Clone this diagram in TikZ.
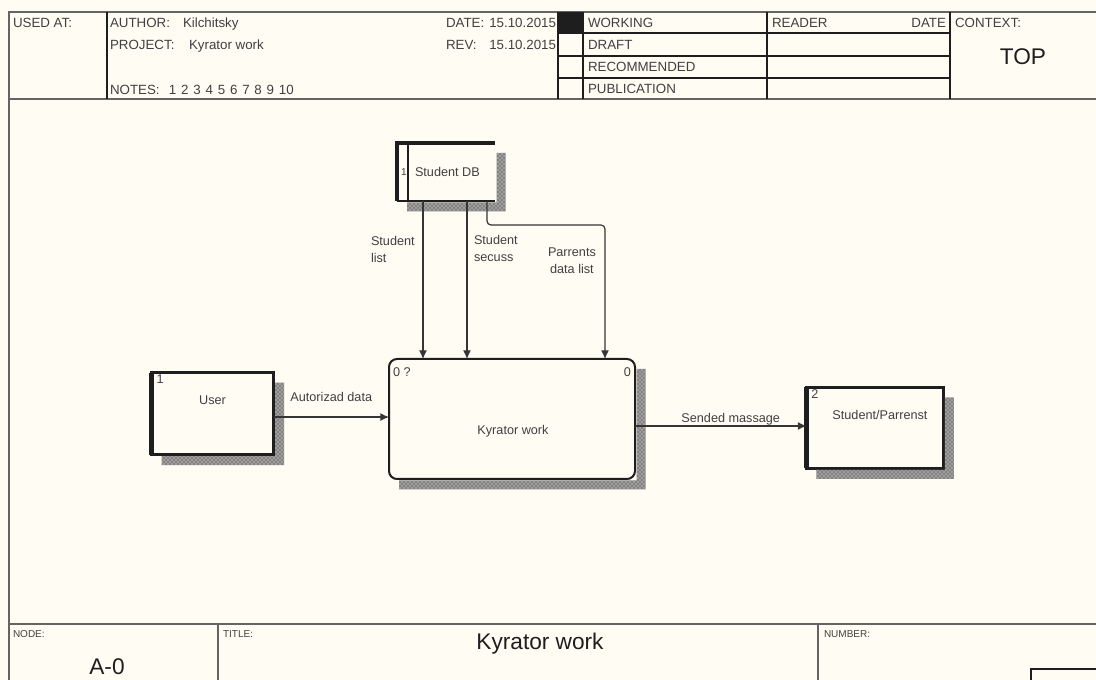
\documentclass[tikz,border=0pt]{standalone}
\usepackage{fontspec}
\setmainfont{Liberation Sans}
\usetikzlibrary{arrows.meta, positioning, patterns}
\definecolor{paper}{RGB}{255,252,243}
\definecolor{ink}{RGB}{30,30,30}
\definecolor{frm}{RGB}{100,100,100}
\tikzstyle{txt} = [inner sep=0pt, outer sep=0pt, anchor=base west, text=ink!85, font=\fontsize{9.5}{12.75}\selectfont]
\tikzstyle{head} = [txt, font=\fontsize{10}{12}\selectfont]
\tikzstyle{tiny} = [txt, font=\fontsize{7.5}{9}\selectfont]
\tikzstyle{big} = [inner sep=0pt, outer sep=0pt, text=ink, font=\fontsize{17}{20}\selectfont]
\tikzstyle{frame} = [draw=frm, line width=1.5pt]
\tikzstyle{cell} = [draw=ink, line width=1pt]
\tikzstyle{entity} = [rectangle, draw=ink, line width=2.3pt, outer sep=0pt]
\tikzstyle{process} = [rectangle, rounded corners=6pt, draw=ink, line width=1.5pt, outer sep=0pt, minimum width=184.5pt, minimum height=90pt]
\tikzstyle{store} = [rectangle, outer sep=0pt, minimum width=73.5pt, minimum height=43.5pt]
\tikzstyle{hatch} = [fill=ink!55, postaction={pattern=crosshatch dots, pattern color=paper}]
\tikzstyle{flow} = [draw=ink!90, line width=0.9pt, -{Latex[length=6.5pt,width=6pt]}]

\begin{document}
\begin{tikzpicture}[x=0.75pt, y=-0.75pt]
\fill[paper] (0,0) rectangle (1096,680);
\useasboundingbox (0,0) rectangle (1096,680);

% form frame
\draw[frame] (1096,12) -- (9,12) -- (9,680);
\draw[frame] (9,99) -- (1096,99);
\draw[frame] (9,624) -- (1096,624);
\draw[cell] (107,12) -- (107,99) (558,12) -- (558,99) (583,12) -- (583,99)
            (767,12) -- (767,99) (950,12) -- (950,99);
\draw[cell] (558,33) -- (950,33) (558,56) -- (950,56) (558,78) -- (950,78);
\fill[ink] (558,12) rectangle (583,33);
\draw[frame] (218,624) -- (218,680) (818,624) -- (818,680);
\draw[cell] (1096,669) -- (1031,669) -- (1031,680);

% header texts
\node (usedat) [head] at (13,28) {USED AT:};
\node (author) [head] at (110,28) {AUTHOR:};
\node (authorv) [head] at (183,28) {Kilchitsky};
\node (project) [head] at (110,50) {PROJECT:};
\node (projectv) [head] at (189,50) {Kyrator work};
\node (notes) [head] at (110,95) {NOTES:\hspace{7pt}1\hspace{3.6pt}2\hspace{3.6pt}3\hspace{3.6pt}4\hspace{3.6pt}5\hspace{3.6pt}6\hspace{3.6pt}7\hspace{3.6pt}8\hspace{3.6pt}9\hspace{3.6pt}10};
\node (date) [head] at (446,28) {DATE:};
\node (datev) [head, anchor=base east] at (556,28) {15.10.2015};
\node (rev) [head] at (446,50) {REV:};
\node (revv) [head, anchor=base east] at (556,50) {15.10.2015};
\node (working) [head] at (588,28) {WORKING};
\node (draft) [head] at (588,50) {DRAFT};
\node (recom) [head] at (588,72) {RECOMMENDED};
\node (public) [head] at (588,94) {PUBLICATION};
\node (reader) [head] at (772,28) {READER};
\node (rdate) [head, anchor=base east] at (946,28) {DATE};
\node (context) [head] at (955,28) {CONTEXT:};
\node (top) [big, anchor=base] at (1023,65) {TOP};

% footer texts
\node (nodelbl) [tiny] at (13,637) {NODE:};
\node (nodev) [big, anchor=base] at (107,674) {A-0};
\node (titlelbl) [tiny] at (223,637) {TITLE:};
\node (titlev) [big, anchor=base] at (540,649) {Kyrator work};
\node (numlbl) [tiny] at (824,637) {NUMBER:};

% diagram
\node (work) [process] at (512,419) {};
\node (user) [entity, minimum width=91.5pt, minimum height=61.5pt, left=86.6pt of work, yshift=4.1pt] {};
\node (sp) [entity, minimum width=102.75pt, minimum height=60.75pt, right=128.6pt of work, yshift=-6.75pt] {};
\node (db) [store] at (446,172) {};

\foreach \n in {user, work, sp, db}
  \fill[hatch] ([shift={(1.5,10)}]\n.north east) rectangle ([shift={(10.5,10.5)}]\n.south east)
               ([shift={(10,1.5)}]\n.south west) rectangle ([shift={(1.5,10.5)}]\n.south east);

\draw[ink, line width=4pt] (user.north west) -- (user.south west);
\draw[ink, line width=4pt] (sp.north west) -- (sp.south west);
\draw[ink, line width=2.3pt] (db.north east) -- (db.north west) -- (db.south west);
\draw[ink, line width=1.6pt] (db.south west) -- (db.south east);
\draw[ink, line width=1.5pt] ([shift={(11,0)}]db.north west) -- ([shift={(11,0)}]db.south west);

\node (usertxt) [txt, anchor=center] at ([shift={(0,-13)}]user.center) {User};
\node (usernum) [txt] at ([shift={(5,11)}]user.north west) {1};
\node (worktxt) [txt, anchor=center] at ([shift={(1,12)}]work.center) {Kyrator work};
\node (worknum) [txt] at ([shift={(4,18)}]work.north west) {0 ?};
\node (workref) [txt, anchor=base east] at ([shift={(-4,18)}]work.north east) {0};
\node (sptxt) [txt, anchor=center] at ([shift={(5,-13)}]sp.center) {Student/Parrenst};
\node (spnum) [txt] at ([shift={(5,11)}]sp.north west) {2};
\node (dbnum) [tiny, anchor=west] at ([shift={(4,0)}]db.west) {1};
\node (dbtxt) [txt, anchor=west] at ([shift={(18,0)}]db.west) {Student DB};

\coordinate (ua) at ([shift={(0,3.5)}]user.east);
\coordinate (sa) at ([shift={(0,7)}]work.east);
\draw [flow] (ua) -- (ua -| work.west) node (lblauth) [txt, midway, anchor=base, yshift=12pt] {Autorizad data};
\draw [flow] (sa) -- (sa -| sp.west) node (lblsend) [txt, midway, anchor=base, xshift=7.5pt, yshift=2.6pt] {Sended massage};
\draw [flow] ([shift={(26,0)}]db.south west) -- ([shift={(34,0)}]work.north west);
\draw [flow] ([shift={(70,0)}]db.south west) -- ([shift={(78,0)}]work.north west);
\draw [flow, rounded corners=3pt] ([shift={(90,0)}]db.south west) -- ++(0,24) -| ([shift={(216,0)}]work.north west);

\node (lbllist) [txt, align=left, anchor=north west] at (371,236) {Student\\list};
\node (lblsecuss) [txt, align=left, anchor=north west] at (474,235) {Student\\secuss};
\node (lblparent) [txt, align=center, anchor=north west] at (548,248) {Parrents\\data list};
\end{tikzpicture}
\end{document}
